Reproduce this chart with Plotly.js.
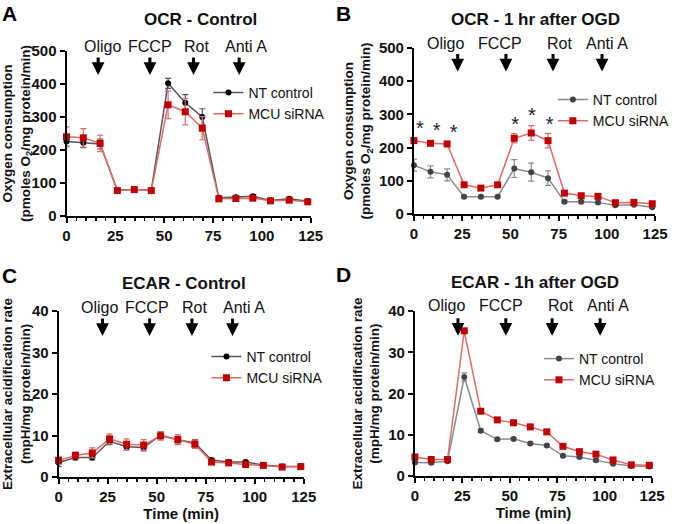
<!DOCTYPE html>
<html>
<head>
<meta charset="utf-8">
<script src="https://cdn.plot.ly/plotly-3.0.1.min.js"></script>
<style>
  html, body { margin: 0; padding: 0; background: #fff; }
  #chart { width: 675px; height: 524px; }
</style>
</head>
<body>
<div id="chart"></div>
<script>
"use strict";
const W = 675, H = 524;
const FONT = "Liberation Sans, Arial, sans-serif";

// measurement times (min), shared by all four panels
const time = [0, 8.6, 17.2, 26, 34.7, 43.4, 52, 60.8, 69.5, 78, 86.7, 95.4, 104.4, 114, 123.5];

// A: OCR - Control
const ocrCtrlNT = [226, 222, 218, 78, 80, 78, 402, 343, 300, 55, 57, 60, 47, 52, 45];
const ocrCtrlNTErr = [15, 15, 15, 5, 5, 5, 15, 25, 25, 5, 5, 5, 3, 3, 3];
const ocrCtrlMCU = [240, 237, 220, 77, 80, 77, 337, 316, 266, 52, 53, 54, 46, 48, 43];
const ocrCtrlMCUErr = [30, 28, 25, 6, 6, 6, 42, 40, 35, 5, 5, 6, 4, 4, 4];

// B: OCR - 1 hr after OGD
const ocrOgdNT = [147, 127, 118, 52, 52, 52, 137, 126, 108, 37, 37, 35, 26, 28, 20];
const ocrOgdNTErr = [18, 18, 18, 4, 4, 4, 27, 27, 22, 4, 4, 4, 3, 3, 3];
const ocrOgdMCU = [221, 213, 211, 88, 78, 88, 228, 244, 221, 63, 55, 53, 34, 35, 31];
const ocrOgdMCUErr = [5, 4, 4, 4, 4, 4, 14, 22, 22, 4, 4, 4, 3, 3, 3];
const starX = [3.1, 11.8, 20.6, 52.5, 61.2, 70.3];
const starY = [254, 247, 241, 266, 292, 266];

// C: ECAR - Control
const ecarCtrlNT = [3.5, 4.7, 4.7, 8.6, 7.3, 7.1, 10.1, 9.0, 8.2, 4.1, 3.6, 3.6, 2.9, 2.5, 2.5];
const ecarCtrlNTErr = [1, 0.6, 0.6, 0.8, 0.8, 0.8, 0.8, 0.8, 0.8, 0.4, 0.4, 0.4, 0.3, 0.3, 0.3];
const ecarCtrlMCU = [4.0, 5.2, 5.8, 9.2, 7.9, 7.7, 9.9, 9.0, 7.9, 3.6, 3.4, 3.0, 2.8, 2.4, 2.5];
const ecarCtrlMCUErr = [1, 0.8, 1.2, 1.2, 1.3, 1.3, 1, 1.2, 1, 0.5, 0.4, 0.4, 0.3, 0.3, 0.3];

// D: ECAR - 1h after OGD
const ecarOgdNT = [3.3, 3.2, 3.6, 24, 11, 8.9, 9.0, 7.9, 7.4, 4.9, 4.6, 3.8, 3.0, 2.4, 2.3];
const ecarOgdNTErr = [0.3, 0.3, 0.3, 1, 0.4, 0.3, 0.3, 0.3, 0.3, 0.3, 0.3, 0.3, 0.3, 0.3, 0.3];
const ecarOgdMCU = [4.6, 4.0, 4.0, 35.2, 15.7, 13.6, 12.9, 11.9, 10.7, 7.2, 5.9, 5.3, 3.9, 2.7, 2.6];
const ecarOgdMCUErr = [0.3, 0.3, 0.3, 0.4, 0.3, 0.3, 0.3, 0.3, 0.3, 0.3, 0.3, 0.3, 0.3, 0.3, 0.3];

// injections
const injNames = ["Oligo", "FCCP", "Rot", "Anti A"];
const injA = [16.2, 42.7, 65, 88.4];
const injB = [22.7, 47.7, 72.1, 97.5];
const injC = [22.4, 46.4, 68, 88.7];
const injD = [22.7, 47.9, 72.3, 97.6];
const labA = [18.2, 42.9, 66.3, 91.7];
const labB = [16.3, 44.6, 75.2, 99.9];
const labC = [21.1, 45.2, 69.3, 94.4];
const labD = [16.6, 45.3, 76.5, 101.8];

const seriesNames = ["NT control", "MCU siRNA"];
const panelTitles = ["OCR - Control", "OCR - 1 hr after OGD", "ECAR - Control", "ECAR - 1h after OGD"];
const panelLetters = ["A", "B", "C", "D"];

// pixel helpers
const xd = (a, b) => [a / W, b / W];
const yd = (a, b) => [(H - b) / H, (H - a) / H];
const px = x => x / W;
const py = y => 1 - y / H;

const RED = "#c00000", RED_LINE = "#e06a6a";

function pair(ax, nt, ntErr, mcu, mcuErr, ntMarker, ntLine, legend) {
  return [
    {
      x: time, y: nt, name: seriesNames[0], type: "scatter", mode: "lines+markers",
      xaxis: "x" + ax, yaxis: "y" + ax, legend: legend, cliponaxis: false,
      line: {color: ntLine, width: 1.5},
      marker: {symbol: "circle", size: 6, color: ntMarker},
      error_y: {type: "data", array: ntErr, visible: true, color: ntLine, thickness: 1.2, width: 3},
    },
    {
      x: time, y: mcu, name: seriesNames[1], type: "scatter", mode: "lines+markers",
      xaxis: "x" + ax, yaxis: "y" + ax, legend: legend, cliponaxis: false,
      line: {color: RED_LINE, width: 1.5},
      marker: {symbol: "square", size: 7, color: RED},
      error_y: {type: "data", array: mcuErr, visible: true, color: RED_LINE, thickness: 1.2, width: 3},
    },
  ];
}

const data = [
  ...pair("", ocrCtrlNT, ocrCtrlNTErr, ocrCtrlMCU, ocrCtrlMCUErr, "#000", "#555", "legend"),
  ...pair("2", ocrOgdNT, ocrOgdNTErr, ocrOgdMCU, ocrOgdMCUErr, "#444", "#8a8a8a", "legend2"),
  ...pair("3", ecarCtrlNT, ecarCtrlNTErr, ecarCtrlMCU, ecarCtrlMCUErr, "#000", "#555", "legend3"),
  ...pair("4", ecarOgdNT, ecarOgdNTErr, ecarOgdMCU, ecarOgdMCUErr, "#444", "#8a8a8a", "legend4"),
  {
    x: starX, y: starY, type: "scatter", mode: "text", text: starX.map(() => "*"),
    textfont: {family: FONT, size: 20, color: "#222"}, xaxis: "x2", yaxis: "y2",
    showlegend: false, cliponaxis: false, hoverinfo: "skip",
  },
];

function xaxis(domain, anchor, withTitle) {
  const ax = {
    domain: domain, anchor: anchor, range: [0, 125], tickvals: [0, 25, 50, 75, 100, 125],
    showgrid: false, zeroline: false, showline: true, linecolor: "#000", linewidth: 2,
    ticks: "outside", ticklen: 5, tickwidth: 2, tickcolor: "#000",
    minor: {dtick: 5, tick0: 0, ticks: "outside", ticklen: 3, tickwidth: 1.5, tickcolor: "#000", showgrid: false},
    tickfont: {family: FONT, size: 15, weight: "bold", color: "#111"},
  };
  if (withTitle) {
    ax.title = {text: "Time (min)", font: {family: FONT, size: 15, weight: "bold", color: "#111"}, standoff: 2};
  }
  return ax;
}

function yaxis(domain, anchor, max, dtick, titleText) {
  return {
    domain: domain, anchor: anchor, range: [0, max], dtick: dtick,
    showgrid: false, zeroline: false, showline: true, linecolor: "#000", linewidth: 2,
    ticks: "outside", ticklen: 5, tickwidth: 2, tickcolor: "#000",
    tickfont: {family: FONT, size: 15, weight: "bold", color: "#111"},
    title: {text: titleText, font: {family: FONT, size: 13.5, weight: "bold", color: "#111"}, standoff: 5},
  };
}

const ocrTitle = "Oxygen consumption<br>(pmoles O<sub>2</sub>/mg protein/min)";
const ecarTitle = "Extracellular acidification rate<br>(mpH/mg protein/min)";

const annotations = [];
const panels = [
  {xr: "x", yr: "y", inj: injA, lab: labA, head: 427, labY: 1.025, tx: 202, ty: 20, lx: 10, ly: 13},
  {xr: "x2", yr: "y2", inj: injB, lab: labB, head: 429, labY: 1.03, tx: 539, ty: 20, lx: 346, ly: 13},
  {xr: "x3", yr: "y3", inj: injC, lab: labC, head: 34, labY: 1.02, tx: 185, ty: 283, lx: 10, ly: 275},
  {xr: "x4", yr: "y4", inj: injD, lab: labD, head: 34, labY: 1.035, tx: 539, ty: 282, lx: 346, ly: 274},
];
panels.forEach((p, i) => {
  annotations.push({
    xref: "paper", yref: "paper", x: px(p.tx), y: py(p.ty), xanchor: "center", yanchor: "middle",
    text: panelTitles[i], showarrow: false, font: {family: FONT, size: 17, weight: "bold", color: "#111"},
  });
  annotations.push({
    xref: "paper", yref: "paper", x: px(p.lx), y: py(p.ly), xanchor: "center", yanchor: "middle",
    text: panelLetters[i], showarrow: false, font: {family: FONT, size: 21, weight: "bold", color: "#000"},
  });
  p.inj.forEach((xv, k) => {
    annotations.push({
      xref: p.xr, yref: p.yr, x: xv, y: p.head, ax: 0, ay: -19, text: "",
      showarrow: true, arrowhead: 2, arrowsize: 0.85, arrowwidth: 3, arrowcolor: "#000", standoff: 0,
    });
    annotations.push({
      xref: p.xr, yref: p.yr + " domain", x: p.lab[k], y: p.labY, xanchor: "center", yanchor: "middle",
      text: injNames[k], showarrow: false, font: {family: FONT, size: 16, color: "#111"},
    });
  });
});

function legendAt(x, y) {
  return {
    x: px(x), y: py(y), xanchor: "left", yanchor: "top", bgcolor: "rgba(0,0,0,0)",
    font: {family: FONT, size: 14, color: "#111"}, itemwidth: 30, tracegroupgap: 0,
  };
}

const layout = {
  width: W, height: H, paper_bgcolor: "#fff", plot_bgcolor: "#fff",
  margin: {l: 0, r: 0, t: 0, b: 0}, showlegend: true,
  font: {family: FONT},
  xaxis: xaxis(xd(67, 313), "y", false),
  yaxis: yaxis(yd(51, 216), "x", 500, 100, ocrTitle),
  xaxis2: xaxis(xd(417, 660), "y2", false),
  yaxis2: yaxis(yd(48, 214), "x2", 500, 100, ocrTitle),
  xaxis3: xaxis(xd(59, 306), "y3", true),
  yaxis3: yaxis(yd(311, 477), "x3", 40, 10, ecarTitle),
  xaxis4: xaxis(xd(418, 657), "y4", true),
  yaxis4: yaxis(yd(311, 476), "x4", 40, 10, ecarTitle),
  legend: legendAt(210, 77),
  legend2: legendAt(557, 84),
  legend3: legendAt(208, 341),
  legend4: legendAt(543, 343),
  annotations: annotations,
};

Plotly.newPlot("chart", data, layout, {displayModeBar: false, staticPlot: true});
</script>
</body>
</html>
